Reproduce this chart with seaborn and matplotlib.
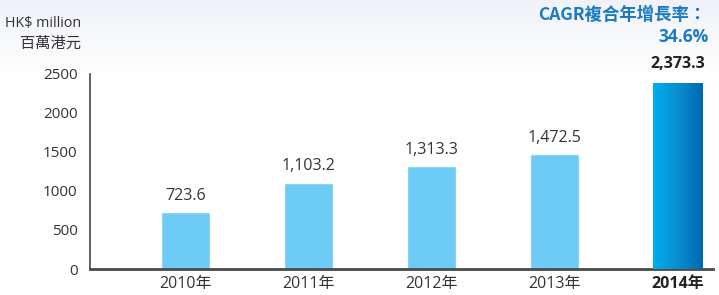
import numpy as np
import pandas as pd
import matplotlib
matplotlib.use("Agg")
import matplotlib.pyplot as plt
import seaborn as sns
from matplotlib.colors import LinearSegmentedColormap

years = ["2010年", "2011年", "2012年", "2013年", "2014年"]
values = [723.6, 1103.2, 1313.3, 1472.5, 2373.3]
value_labels = ["723.6", "1,103.2", "1,313.3", "1,472.5", "2,373.3"]
yticks = [0, 500, 1000, 1500, 2000, 2500]

sns.set_theme(style="white")
FONT = ["Open Sans", "Noto Sans CJK TC", "DejaVu Sans"]
plt.rcParams["font.family"] = FONT

fig = plt.figure(figsize=(7.19, 2.95), dpi=100)

# background gradient
bg = fig.add_axes([0, 0, 1, 1], zorder=-10)
grad = np.linspace(0, 1, 300).reshape(-1, 1)
bg_cmap = LinearSegmentedColormap.from_list("bg", [(0, "#F0F2F8"), (0.25, "#FFFFFF"), (1, "#FFFFFF")])
bg.imshow(grad, aspect="auto", cmap=bg_cmap, extent=[0, 1, 0, 1], origin="upper")
bg.set_axis_off()

ax = fig.add_axes([0.1252, 0.0881, 0.9917 - 0.1252, 0.7508 - 0.0881])
ax.set_facecolor("none")

df = pd.DataFrame({"year": years, "value": values})
light = "#6DCBF5"
sns.barplot(data=df, x="year", y="value", hue="year",
            palette=[light] * 4 + ["#0090D8"], legend=False,
            width=0.4, ax=ax, saturation=1)

# gradient fill on the last bar
last = ax.patches[-1]
bx, by = last.get_x(), last.get_y()
bw, bh = last.get_width(), last.get_height()
bar_cmap = LinearSegmentedColormap.from_list("bar", ["#00AEEF", "#0A8ED0", "#0067B1"])
hgrad = np.linspace(0, 1, 200).reshape(1, -1)
im = ax.imshow(hgrad, aspect="auto", cmap=bar_cmap,
               extent=[bx, bx + bw, by, by + bh], zorder=3)
im.set_clip_path(last)
last.set_facecolor("none")

ax.set_xlim(-0.776, 4.29)
ax.set_ylim(0, 2500)
ax.set_yticks(yticks)
ax.set_yticklabels([str(t) for t in yticks])
ax.set_xlabel("")
ax.set_ylabel("")

sns.despine(ax=ax, top=True, right=True)
ax.spines["left"].set_color("#555555")
ax.spines["left"].set_linewidth(1.3)
ax.spines["bottom"].set_color("#4A4A4A")
ax.spines["bottom"].set_linewidth(2)

ax.tick_params(axis="y", length=0, pad=9, labelsize=11, labelcolor="#333333")
ax.tick_params(axis="x", length=0, pad=5, labelsize=11.5, labelcolor="#333333")
for i, t in enumerate(ax.get_xticklabels()):
    t.set_fontfamily(FONT)
    if i == len(years) - 1:
        t.set_fontweight("bold")
        t.set_color("#222222")

for i, (v, lab) in enumerate(zip(values, value_labels)):
    bold = i == len(values) - 1
    ax.annotate(lab, (i, v), xytext=(0, 6 if not bold else 8), textcoords="offset points",
                ha="center", va="bottom", fontsize=11.5,
                fontweight="bold" if bold else "normal",
                color="#222222" if bold else "#333333", family=FONT)

fig.text(81 / 719, 1 - 23 / 295, "HK$ million", ha="right", va="center",
         fontsize=10.3, color="#333333", family=FONT)
fig.text(81 / 719, 1 - 43 / 295, "百萬港元", ha="right", va="center",
         fontsize=11, color="#333333", family=["Noto Sans CJK TC", "DejaVu Sans"])

fig.text(706 / 719, 1 - 15 / 295, "CAGR複合年增長率：", ha="right", va="center",
         fontsize=12.5, fontweight="bold", color="#1A7BC2",
         family=["Noto Sans CJK TC", "DejaVu Sans"])
fig.text(709 / 719, 1 - 37 / 295, "34.6%", ha="right", va="center",
         fontsize=12.5, fontweight="bold", color="#1A7BC2",
         family=["Open Sans", "Noto Sans CJK TC"])

fig.savefig("out.png", dpi=100)
